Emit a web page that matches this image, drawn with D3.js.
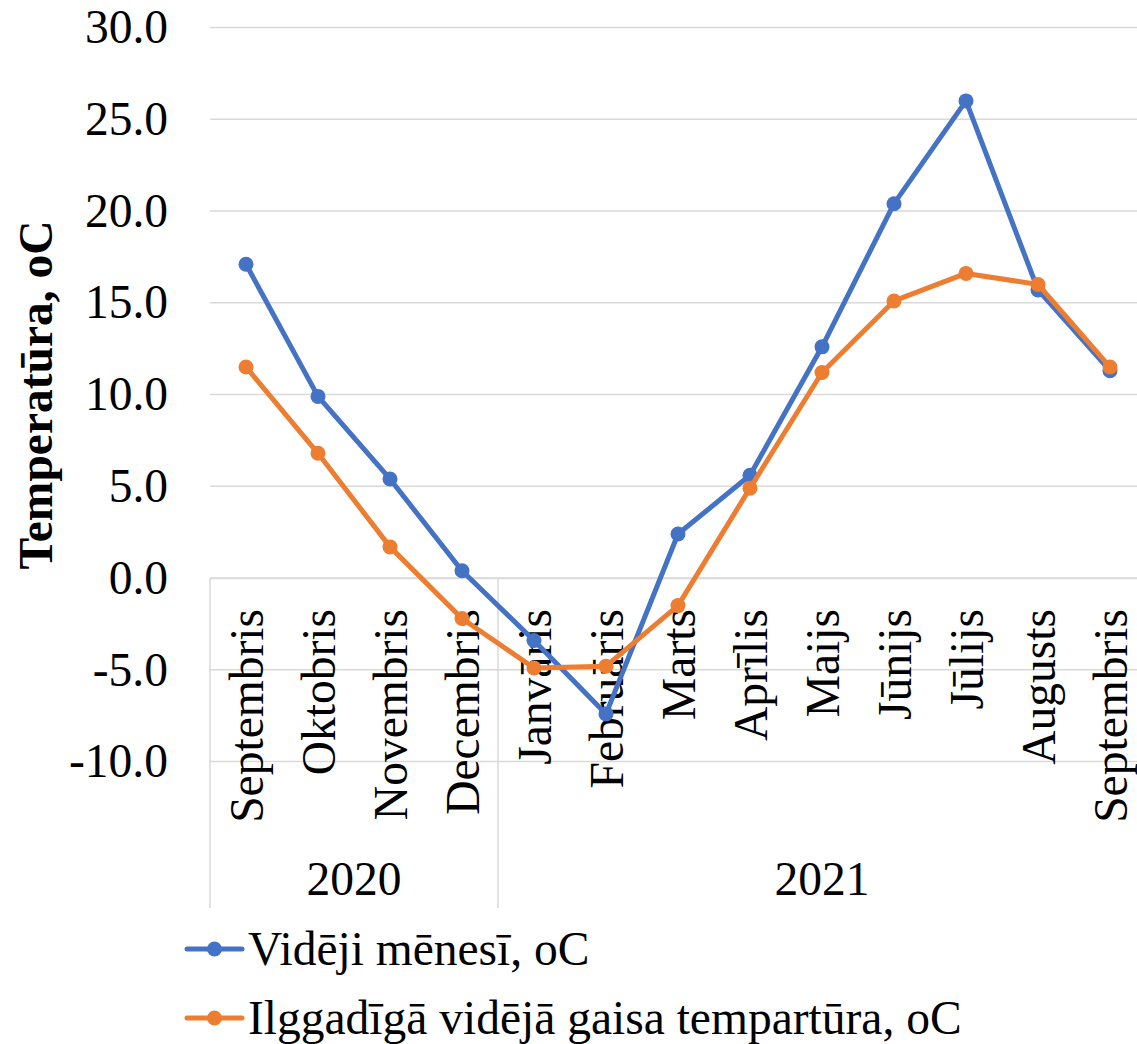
<!DOCTYPE html>
<html>
<head>
<meta charset="utf-8">
<script src="https://cdn.jsdelivr.net/npm/d3@7"></script>
<style>
  body { margin: 0; background: #fff; }
  svg { display: block; font-family: "Liberation Serif", "Times New Roman", serif; }
</style>
</head>
<body>
<svg id="chart" width="1137" height="1044"></svg>
<script>
const months = ['Septembris', 'Oktobris', 'Novembris', 'Decembris', 'Janvāris', 'Februāris', 'Marts', 'Aprīlis', 'Maijs', 'Jūnijs', 'Jūlijs', 'Augusts', 'Septembris']
const years = ['2020', '2021']
const yearSpans = [4, 9]
const monthly = [17.1, 9.9, 5.4, 0.4, -3.4, -7.4, 2.4, 5.6, 12.6, 20.4, 26.0, 15.7, 11.3]
const longTerm = [11.5, 6.8, 1.7, -2.2, -4.9, -4.8, -1.5, 4.9, 11.2, 15.1, 16.6, 16.0, 11.5]
const yTicks = [-10, -5, 0, 5, 10, 15, 20, 25, 30]

const series = [
  { name: 'Vidēji mēnesī, oC', values: monthly, color: '#4472c4' },
  { name: 'Ilggadīgā vidējā gaisa tempartūra, oC', values: longTerm, color: '#ed7d31' },
]

const gridColor = '#d9d9d9'
const fontSize = 47.5
const serif = '"Liberation Serif", "Times New Roman", serif'
const plotLeft = 210, plotRight = 1146, plotTop = 27.5, plotBottom = 761.6, catBottom = 908

const svg = d3.select('#chart')

const x = d3.scaleBand()
  .domain(d3.range(months.length))
  .range([plotLeft, plotRight])
  .padding(0)

const y = d3.scaleLinear()
  .domain([-10, 30])
  .range([plotBottom, plotTop])

// gridlines
svg.append('g')
  .selectAll('line')
  .data(yTicks)
  .join('line')
  .attr('x1', plotLeft)
  .attr('x2', plotRight)
  .attr('y1', d => y(d))
  .attr('y2', d => y(d))
  .attr('stroke', gridColor)
  .attr('stroke-width', 1.5)

// value axis labels
const yAxis = svg.append('g')
  .attr('transform', `translate(${plotLeft},0)`)
  .call(d3.axisLeft(y).tickValues(yTicks).tickFormat(d => d3.format('.1f')(d).replace('−', '-')).tickSize(0).tickPadding(42))
yAxis.attr('font-family', serif)
yAxis.select('.domain').remove()
yAxis.selectAll('text')
  .attr('font-size', fontSize)
  .attr('fill', '#000')

// category axis: month labels
const xAxis = svg.append('g')
  .attr('transform', `translate(0,${y(0)})`)
  .call(d3.axisBottom(x).tickSize(0).tickFormat(i => months[i]))
xAxis.attr('font-family', serif)
xAxis.select('.domain').attr('stroke', gridColor).attr('stroke-width', 1.5)
xAxis.selectAll('text')
  .attr('font-size', fontSize)
  .attr('fill', '#000')
  .attr('text-anchor', 'end')
  .attr('transform', 'translate(0,31) rotate(-90)')
  .attr('x', 0)
  .attr('y', 0)
  .attr('dy', '0.35em')

// year groups
const yearStarts = yearSpans.map((s, i) => d3.sum(yearSpans.slice(0, i)))
const edge = i => i === months.length ? plotRight : x(i)
svg.append('g')
  .selectAll('line')
  .data([...yearStarts, months.length])
  .join('line')
  .attr('x1', edge)
  .attr('x2', edge)
  .attr('y1', y(0))
  .attr('y2', catBottom)
  .attr('stroke', gridColor)
  .attr('stroke-width', 1.5)

svg.append('g')
  .selectAll('text')
  .data(years)
  .join('text')
  .attr('x', (d, i) => (edge(yearStarts[i]) + edge(yearStarts[i] + yearSpans[i])) / 2)
  .attr('y', 895)
  .attr('text-anchor', 'middle')
  .attr('font-size', fontSize)
  .text(d => d)

// axis title
svg.append('text')
  .attr('transform', 'translate(52,395) rotate(-90)')
  .attr('text-anchor', 'middle')
  .attr('font-size', fontSize)
  .attr('font-weight', 'bold')
  .text('Temperatūra, oC')

// lines
const cx = i => x(i) + x.bandwidth() / 2
const line = d3.line().x((d, i) => cx(i)).y(d => y(d))

series.forEach(s => {
  const g = svg.append('g')
  g.append('path')
    .datum(s.values)
    .attr('d', line)
    .attr('fill', 'none')
    .attr('stroke', s.color)
    .attr('stroke-width', 5)
    .attr('stroke-linejoin', 'round')
  g.selectAll('circle')
    .data(s.values)
    .join('circle')
    .attr('cx', (d, i) => cx(i))
    .attr('cy', d => y(d))
    .attr('r', 7.5)
    .attr('fill', s.color)
})

// legend
const legend = svg.append('g')
  .selectAll('g')
  .data(series)
  .join('g')
  .attr('transform', (d, i) => `translate(0,${949 + i * 69})`)
legend.append('line')
  .attr('x1', 187).attr('x2', 242)
  .attr('stroke', d => d.color)
  .attr('stroke-width', 5)
  .attr('stroke-linecap', 'round')
legend.append('circle')
  .attr('cx', 214.5)
  .attr('r', 7.5)
  .attr('fill', d => d.color)
legend.append('text')
  .attr('x', 248)
  .attr('dy', '0.33em')
  .attr('font-size', fontSize)
  .text(d => d.name)
</script>
</body>
</html>
